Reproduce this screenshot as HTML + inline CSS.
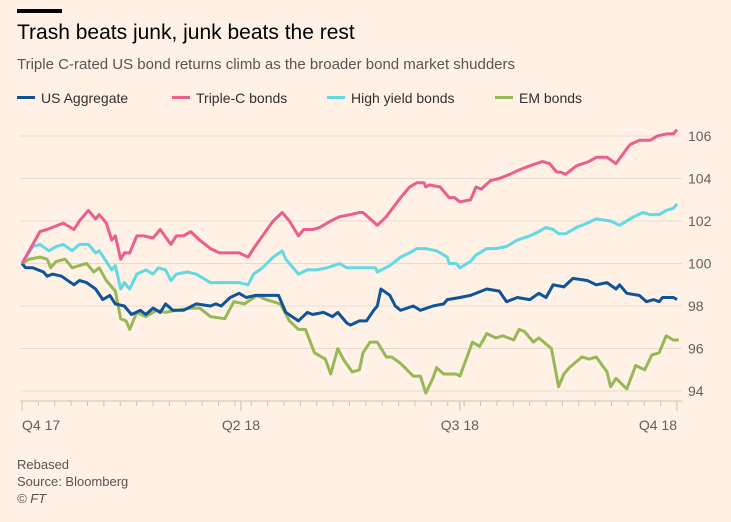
<!DOCTYPE html>
<html><head><meta charset="utf-8"><style>
body{margin:0;background:#fff1e5;font-family:"Liberation Sans",sans-serif;}
#wrap{position:relative;width:731px;height:522px;background:#fff1e5;overflow:hidden;}
.t{position:absolute;white-space:nowrap;}
</style></head><body>
<div id="wrap">
<div class="t" style="left:17px;top:9px;width:45px;height:4px;background:#000"></div>
<div class="t" style="left:17px;top:21px;font-size:21px;color:#000">Trash beats junk, junk beats the rest</div>
<div class="t" style="left:17px;top:56px;font-size:15px;color:#5a5450">Triple C-rated US bond returns climb as the broader bond market shudders</div>
<div class="t" style="left:17px;top:457px;font-size:13px;color:#5a5450">Rebased</div>
<div class="t" style="left:17px;top:474px;font-size:13px;color:#5a5450">Source: Bloomberg</div>
<div class="t" style="left:17px;top:491px;font-size:13px;color:#5a5450;font-style:italic">© FT</div>
<svg id="chart" width="731" height="522" style="position:absolute;left:0;top:0"></svg>
</div>
<script>
const yTicks=[94,96,98,100,102,104,106];
const xLabels=["Q4 17","Q2 18","Q3 18","Q4 18"];
const xLabelDays=[0,122,244,365];
const seriesNames=["US Aggregate","Triple-C bonds","High yield bonds","EM bonds"];
const seriesColors=["#0f5499","#eb5e8d","#62d9e3","#96b856"];
const pinkDays=[0,6,10,14,17,23,29,32,37,41,43,47,50,52,55,57,60,64,68,73,77,83,86,90,94,99,105,110,116,121,126,129,134,140,145,149,154,157,162,166,172,177,183,188,190,194,198,203,211,216,220,224,225,227,233,238,241,244,250,253,256,261,266,272,277,283,290,294,298,300,303,309,316,320,326,331,337,339,344,350,354,359,363,365];
const pinkVals=[100,100.9,101.5,101.6,101.7,101.9,101.6,102.0,102.5,102.1,102.3,101.9,101.1,101.3,100.2,100.5,100.5,101.3,101.3,101.2,101.6,100.9,101.3,101.3,101.5,101.1,100.7,100.5,100.5,100.5,100.3,100.7,101.3,102.0,102.4,102.0,101.3,101.6,101.6,101.7,102.0,102.2,102.3,102.4,102.4,102.1,101.8,102.2,103.1,103.6,103.8,103.8,103.6,103.7,103.6,103.1,103.1,102.9,103.0,103.6,103.5,103.9,104.0,104.2,104.4,104.6,104.8,104.7,104.3,104.3,104.2,104.6,104.8,105.0,105.0,104.7,105.4,105.6,105.8,105.8,106.0,106.1,106.1,106.3];
const cyanDays=[0,6,10,15,19,23,28,32,37,41,43,47,50,52,55,57,60,64,69,73,76,80,83,86,92,97,105,110,114,121,126,129,134,140,145,147,154,159,164,170,177,181,188,190,197,198,205,211,216,220,225,231,237,238,242,244,250,253,255,259,264,270,276,283,288,292,296,299,303,309,315,320,328,333,341,346,350,355,359,363,365];
const cyanVals=[100,100.8,100.9,100.6,100.8,100.9,100.6,100.9,100.9,100.5,100.6,100.1,99.7,99.9,98.8,99.1,98.8,99.5,99.7,99.5,99.8,99.7,99.2,99.5,99.6,99.5,99.1,99.1,99.1,99.1,99.0,99.5,99.8,100.3,100.6,100.2,99.5,99.7,99.7,99.8,100.0,99.8,99.8,99.8,99.8,99.6,99.9,100.3,100.5,100.7,100.7,100.6,100.3,100.0,100.0,99.8,100.1,100.4,100.5,100.7,100.7,100.8,101.1,101.3,101.5,101.7,101.6,101.4,101.4,101.7,101.9,102.1,102.0,101.8,102.2,102.4,102.3,102.3,102.5,102.6,102.8];
const navyDays=[0,2,6,12,14,17,22,29,32,36,41,45,49,52,57,61,66,69,73,77,80,84,90,97,105,108,111,116,121,125,130,136,143,147,154,159,162,168,173,176,181,183,188,192,196,198,200,205,208,211,218,222,229,235,237,244,250,259,266,270,276,283,288,292,296,302,307,315,320,326,331,333,337,344,348,352,355,357,363,365];
const navyVals=[100,99.8,99.8,99.6,99.4,99.5,99.4,99.0,99.2,99.1,98.8,98.3,98.5,98.1,98.0,97.6,97.8,97.6,97.9,97.7,98.1,97.8,97.8,98.1,98.0,98.1,98.0,98.4,98.6,98.4,98.5,98.5,98.5,97.7,97.3,97.7,97.6,97.7,97.5,97.7,97.2,97.1,97.3,97.3,97.8,98.0,98.8,98.5,98.0,97.8,98.0,97.8,98.0,98.1,98.3,98.4,98.5,98.8,98.7,98.2,98.4,98.3,98.6,98.4,99.0,98.9,99.3,99.2,99.0,99.1,98.8,99.0,98.6,98.5,98.2,98.3,98.2,98.4,98.4,98.3];
const greenDays=[0,4,10,14,16,19,24,28,32,36,40,43,47,52,55,58,60,64,69,75,80,86,94,99,105,113,118,124,131,136,144,149,154,158,163,169,172,176,179,184,188,190,194,198,203,206,211,218,222,225,229,231,235,242,244,248,251,255,259,264,268,274,277,280,285,288,295,299,302,305,312,316,320,326,328,331,337,342,347,351,355,359,363,366];
const greenVals=[100,100.2,100.3,100.2,99.8,100.1,100.2,99.8,99.9,100.0,99.6,99.8,99.2,98.7,97.4,97.3,96.9,97.7,97.5,97.8,97.7,97.8,97.9,97.9,97.5,97.4,98.2,98.1,98.5,98.3,98.1,97.3,96.9,96.9,95.8,95.5,94.8,96.0,95.5,94.9,95.0,95.8,96.3,96.3,95.6,95.6,95.3,94.7,94.7,93.9,94.6,95.1,94.8,94.8,94.7,95.6,96.3,96.1,96.7,96.5,96.6,96.4,96.9,96.8,96.3,96.5,96.0,94.2,94.8,95.1,95.6,95.5,95.6,94.9,94.2,94.6,94.1,95.2,95.0,95.7,95.8,96.6,96.4,96.4];
const seriesDays=[navyDays,pinkDays,cyanDays,greenDays];
const seriesVals=[navyVals,pinkVals,cyanVals,greenVals];
const seriesKeys=["us-aggregate","triple-c","high-yield","em-bonds"];

const NS="http://www.w3.org/2000/svg";
const svg=document.getElementById('chart');
const X0=22,X1=677,Y0=263.5,PX=21.25;
function xs(d){return X0+d*(X1-X0)/365;}
function ys(v){return Y0-(v-100)*PX;}
function el(t,a){const e=document.createElementNS(NS,t);for(const k in a)e.setAttribute(k,a[k]);svg.appendChild(e);return e;}
yTicks.forEach(v=>{
  const g=el('line',{x1:20,x2:682,y1:ys(v),y2:ys(v),stroke:'#e7dbd0','stroke-width':1});
  
  
  const t=el('text',{x:688,y:ys(v)+5,'font-size':14,fill:'#66605c','font-family':'Liberation Sans, sans-serif'});
  t.textContent=v;
  
  
});
const ax=el('line',{x1:20,x2:682,y1:401,y2:401,stroke:'#ccc1b7','stroke-width':1});


for(let i=0;i<=40;i++){
  const x=X0+i*(X1-X0)/40;
  const tk=el('line',{x1:x,x2:x,y1:401,y2:406,stroke:'#ccc1b7','stroke-width':1});
  
  
}
xLabels.forEach((l,i)=>{
  const x=xs(xLabelDays[i]);
  const tk=el('line',{x1:x,x2:x,y1:401,y2:411,stroke:'#ccc1b7','stroke-width':1});
  
  
  const t=el('text',{x:x,y:430,'font-size':14,fill:'#66605c','text-anchor':i==0?'start':(i==xLabels.length-1?'end':'middle'),'font-family':'Liberation Sans, sans-serif'});
  t.textContent=l;
  
  
});
[3,0,2,1].forEach(s=>{
  const d=seriesDays[s].map((dd,i)=>(i?'L':'M')+xs(dd).toFixed(1)+','+ys(seriesVals[s][i]).toFixed(1)).join('');
  const p=el('path',{d:d,fill:'none',stroke:seriesColors[s],'stroke-width':3,'stroke-linejoin':'round'});
  
  
});
const legX=[17,172,327,495];
seriesNames.forEach((n,i)=>{
  const r=el('rect',{x:legX[i],y:96,width:18,height:3,fill:seriesColors[i]});
  
  
  const t=el('text',{x:legX[i]+24,y:103,'font-size':14,fill:'#33302e','font-family':'Liberation Sans, sans-serif'});
  t.textContent=n;
  
  
});
</script>
</body></html>
